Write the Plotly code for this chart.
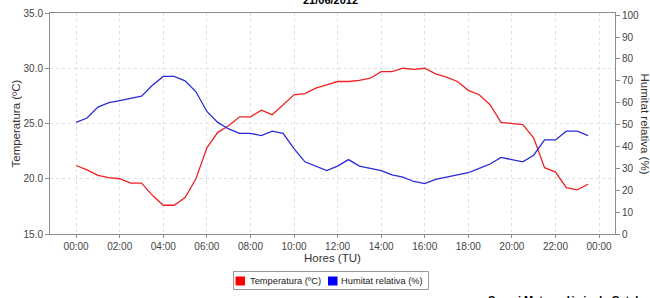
import plotly.graph_objects as go

times = ["00:00", "00:30", "01:00", "01:30", "02:00", "02:30", "03:00", "03:30",
         "04:00", "04:30", "05:00", "05:30", "06:00", "06:30", "07:00", "07:30",
         "08:00", "08:30", "09:00", "09:30", "10:00", "10:30", "11:00", "11:30",
         "12:00", "12:30", "13:00", "13:30", "14:00", "14:30", "15:00", "15:30",
         "16:00", "16:30", "17:00", "17:30", "18:00", "18:30", "19:00", "19:30",
         "20:00", "20:30", "21:00", "21:30", "22:00", "22:30", "23:00", "23:30"]

temperatura = [21.2, 20.8, 20.3, 20.1, 20.0, 19.6, 19.6, 18.5,
               17.6, 17.6, 18.3, 20.0, 22.8, 24.2, 24.8, 25.6,
               25.6, 26.2, 25.8, 26.7, 27.6, 27.7, 28.2, 28.5,
               28.8, 28.8, 28.9, 29.1, 29.7, 29.7, 30.0, 29.9,
               30.0, 29.5, 29.2, 28.8, 28.0, 27.6, 26.7, 25.1,
               25.0, 24.9, 23.7, 21.0, 20.6, 19.2, 19.0, 19.5]

humitat = [51, 53, 58, 60, 61, 62, 63, 68,
           72, 72, 70, 65, 56, 51, 48, 46,
           46, 45, 47, 46, 39, 33, 31, 29,
           31, 34, 31, 30, 29, 27, 26, 24,
           23, 25, 26, 27, 28, 30, 32, 35,
           34, 33, 36, 43, 43, 47, 47, 45]

date = "2012-06-21"
title_text = "21/06/2012"
series_names = ["Temperatura (ºC)", "Humitat relativa (%)"]
series_colors = ["#ee2222", "#2a2ad6"]
legend_colors = ["#ff0000", "#0000ff"]

x = [f"{date} {t}" for t in times]

W, H = 650, 298
L, R, T, B = 50, 35, 13, 64
PW, PH = W - L - R, H - T - B


def px_x(p):
    return (p - L) / PW


def px_y(p):
    return (H - B - p) / PH


fig = go.Figure()
fig.add_trace(go.Scatter(x=x, y=temperatura, mode="lines", name=series_names[0],
                         line=dict(color=series_colors[0], width=1.3), yaxis="y",
                         showlegend=False))
fig.add_trace(go.Scatter(x=x, y=humitat, mode="lines", name=series_names[1],
                         line=dict(color=series_colors[1], width=1.3), yaxis="y2",
                         showlegend=False))

axis_col = "#8c8c8c"
grid_col = "#e0e0e0"
tick_font = dict(family="Liberation Sans, Arial, sans-serif", size=10, color="#444444")

fig.update_layout(
    template="none",
    width=W, height=H, autosize=False,
    margin=dict(l=L, r=R, t=T, b=B, pad=0, autoexpand=False),
    paper_bgcolor="white", plot_bgcolor="white",
    showlegend=False,
    xaxis=dict(
        type="date", automargin=False,
        range=["2012-06-20 22:48", "2012-06-22 00:44"],
        tick0="2012-06-21 00:00", dtick=7200000, tickformat="%H:%M",
        showgrid=True, gridcolor=grid_col, griddash="dot", gridwidth=1,
        showline=True, linecolor=axis_col, linewidth=1, mirror=True,
        ticks="outside", ticklen=3, tickcolor=axis_col,
        tickfont=tick_font, zeroline=False,
    ),
    yaxis=dict(
        range=[15, 35], dtick=5, tickformat=".1f", automargin=False,
        showgrid=True, gridcolor=grid_col, griddash="dot", gridwidth=1,
        showline=True, linecolor=axis_col, linewidth=1,
        ticks="outside", ticklen=4, tickcolor=axis_col,
        tickfont=tick_font, zeroline=False,
    ),
    yaxis2=dict(
        range=[0, 101], dtick=10, overlaying="y", side="right", automargin=False,
        showgrid=False,
        showline=True, linecolor=axis_col, linewidth=1,
        ticks="outside", ticklen=4, tickcolor=axis_col,
        tickfont=tick_font, zeroline=False,
    ),
)

ann_font = "Liberation Sans, Arial, sans-serif"
annotations = [
    dict(text=f"<b>{title_text}</b>", x=px_x(330), y=px_y(0), xref="paper", yref="paper",
         xanchor="center", yanchor="middle", showarrow=False,
         font=dict(family=ann_font, size=11, color="black")),
    dict(text="Hores (TU)", x=px_x(332), y=px_y(257.5), xref="paper", yref="paper",
         xanchor="center", yanchor="middle", showarrow=False,
         font=dict(family=ann_font, size=11.5, color="#333333")),
    dict(text="Temperatura (ºC)", x=px_x(15), y=px_y(123.5), xref="paper", yref="paper",
         xanchor="center", yanchor="middle", showarrow=False, textangle=-90,
         font=dict(family=ann_font, size=11.5, color="#333333")),
    dict(text="Humitat relativa (%)", x=px_x(645), y=px_y(123.5), xref="paper", yref="paper",
         xanchor="center", yanchor="middle", showarrow=False, textangle=90,
         font=dict(family=ann_font, size=11.5, color="#333333")),
    dict(text=series_names[0], x=px_x(248), y=px_y(281), xref="paper", yref="paper",
         xanchor="left", yanchor="middle", showarrow=False,
         font=dict(family=ann_font, size=9.3, color="#222222")),
    dict(text=series_names[1], x=px_x(339), y=px_y(281), xref="paper", yref="paper",
         xanchor="left", yanchor="middle", showarrow=False,
         font=dict(family=ann_font, size=9.3, color="#222222")),
    dict(text="<b>Servei Meteorològic de Catalunya</b>", x=px_x(486), y=px_y(292),
         xref="paper", yref="paper", xanchor="left", yanchor="top", showarrow=False,
         font=dict(family=ann_font, size=11, color="black")),
]
fig.update_layout(annotations=annotations)

shapes = [
    dict(type="rect", xref="paper", yref="paper",
         x0=px_x(233.5), x1=px_x(428.5), y0=px_y(289.5), y1=px_y(271.5),
         line=dict(color="#999999", width=1), fillcolor="white"),
    dict(type="rect", xref="paper", yref="paper",
         x0=px_x(235.5), x1=px_x(245), y0=px_y(285.5), y1=px_y(276.5),
         line=dict(width=0), fillcolor=legend_colors[0]),
    dict(type="rect", xref="paper", yref="paper",
         x0=px_x(328), x1=px_x(337.5), y0=px_y(285.5), y1=px_y(276.5),
         line=dict(width=0), fillcolor=legend_colors[1]),
]
fig.update_layout(shapes=shapes)

fig.write_html(
    "out.html",
    config={"displayModeBar": False},
    post_script="document.body.style.margin='0';document.body.style.overflow='hidden';",
)
